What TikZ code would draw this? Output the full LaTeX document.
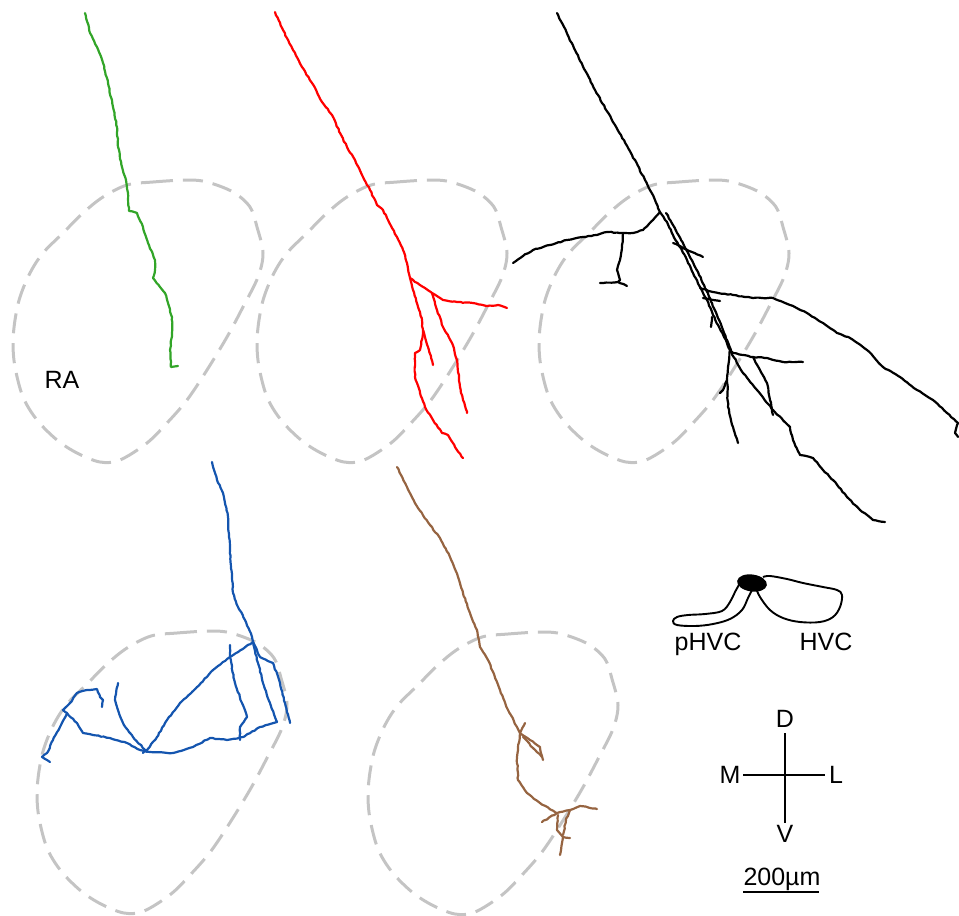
\documentclass[tikz,border=0pt]{standalone}
\usepackage{fontspec}
\setmainfont{Liberation Sans}
\usetikzlibrary{decorations.pathmorphing}
\definecolor{raGray}{RGB}{196,196,196}
\definecolor{axGreen}{RGB}{50,165,40}
\definecolor{axRed}{RGB}{255,0,0}
\definecolor{axBlue}{RGB}{20,85,175}
\definecolor{axBrown}{RGB}{150,100,65}
\pgfmathsetseed{7}
\begin{document}
\begin{tikzpicture}[x=1pt,y=-1pt,
  raline/.style={draw=raGray, line width=3pt, dash pattern=on 20pt off 10pt},
  axon/.style={draw=#1, line width=2.2pt, line join=round, line cap=round,
    decorate, decoration={random steps, segment length=3pt, amplitude=0.45pt}},
  inset/.style={draw=black, line width=1.9pt, line join=round},
  lbl/.style={font=\fontsize{25}{25}\selectfont, inner sep=0pt, anchor=base},
  ra/.pic={\draw[raline] plot[smooth cycle, tension=0.55] coordinates {
    (127,185) (153,182) (187,180) (207,182) (233,192) (250,207) (257,227)
    (263,253) (258,277) (243,307) (227,337) (207,370) (187,400) (167,423)
    (147,443) (120,460) (100,462) (77,453) (57,440) (37,420) (23,397)
    (15,367) (13,343) (15,320) (20,297) (30,273) (43,253) (63,233)
    (83,213) (103,197)};}
]
\useasboundingbox (0,0) rectangle (959,916);

% RA outlines
\pic at (0,0) {ra};
\pic at (244,0) {ra};
\pic at (526,0) {ra};
\pic at (24,451) {ra};
\pic at (355,452) {ra};

\node[lbl] (ra) at (62,388) {RA};

% green axon
\draw[axon=axGreen] (85,13) -- (90,33) -- (97,47) -- (103,63) -- (108,83) -- (113,107)
  -- (117,127) -- (118,147) -- (122,167) -- (126,180) -- (128,193) -- (129,211)
  -- (137,213) -- (143,227) -- (148,243) -- (155,260) -- (155,270) -- (153,278)
  -- (160,287) -- (165,293) -- (168,303) -- (172,317) -- (172,333) -- (170,350)
  -- (171,367) -- (178,366);

% red axon
\draw[axon=axRed] (275,12) -- (283,30) -- (293,50) -- (302,67) -- (312,83) -- (322,102)
  -- (332,115) -- (340,133) -- (347,147) -- (355,160) -- (363,177) -- (370,190)
  -- (377,205) -- (383,210) -- (388,220) -- (397,237) -- (403,250) -- (407,263)
  -- (410,278) -- (413,290) -- (418,307) -- (422,320) -- (423,333) -- (420,350)
  -- (415,353) -- (415,377) -- (420,393) -- (425,407) -- (433,420) -- (442,433)
  -- (448,435) -- (455,447) -- (463,458);
\draw[axon=axRed] (423,330) -- (428,347) -- (433,365);
\draw[axon=axRed] (410,278) -- (420,285) -- (432,293) -- (443,300) -- (457,302)
  -- (473,303) -- (487,306) -- (498,305) -- (507,308);
\draw[axon=axRed] (432,293) -- (437,310) -- (443,327) -- (452,343) -- (457,360)
  -- (460,387) -- (463,400) -- (467,413);

% black axon
\draw[axon=black] (557,13) -- (575,50) -- (595,90) -- (615,125) -- (632,155)
  -- (645,180) -- (655,200) -- (660,212);
\draw[axon=black] (660,212) -- (653,220) -- (643,230) -- (633,233) -- (623,233)
  -- (607,232) -- (597,235) -- (583,237) -- (567,240) -- (550,245) -- (533,250)
  -- (523,256) -- (513,263);
\draw[axon=black] (623,233) -- (622,247) -- (620,260) -- (617,270) -- (620,280)
  -- (618,282) -- (600,283);
\draw[axon=black] (618,282) -- (627,286);
\draw[axon=black] (660,212) -- (667,222) -- (673,235) -- (680,247) -- (687,260)
  -- (693,273) -- (700,287) -- (707,300) -- (713,315) -- (718,325) -- (724,337)
  -- (730,350);
\draw[axon=black] (666,213) -- (673,225) -- (681,240) -- (689,255) -- (698,272)
  -- (705,288) -- (712,303) -- (718,318) -- (723,330) -- (727,340) -- (731,350);
\draw[axon=black] (673,243) -- (692,252) -- (703,257);
\draw[axon=black] (700,288) -- (713,292) -- (733,295) -- (753,298) -- (773,298)
  -- (790,305) -- (807,313) -- (823,323) -- (837,333) -- (850,338) -- (867,350)
  -- (883,367) -- (900,377) -- (917,390) -- (933,400) -- (947,413) -- (958,423)
  -- (955,433) -- (958,437);
\draw[axon=black] (703,298) -- (720,301);
\draw[axon=black] (712,317) -- (711,327);
\draw[axon=black] (730,350) -- (733,353) -- (753,357) -- (767,358) -- (783,362)
  -- (803,362);
\draw[axon=black] (730,350) -- (728,367) -- (727,380) -- (723,390) -- (720,393);
\draw[axon=black] (727,380) -- (728,407) -- (733,427) -- (738,443);
\draw[axon=black] (731,352) -- (743,373) -- (757,390) -- (773,410) -- (790,427)
  -- (793,440) -- (800,455) -- (813,458) -- (823,470) -- (833,480) -- (847,497)
  -- (860,510) -- (873,520) -- (885,522);
\draw[axon=black] (753,357) -- (760,370) -- (767,383) -- (770,400) -- (773,415);

% blue axon
\draw[axon=axBlue] (212,462) -- (217,480) -- (223,493) -- (228,517) -- (229,537)
  -- (230,550) -- (232,577) -- (233,593) -- (238,607) -- (245,620) -- (252,637)
  -- (253,642) -- (258,663) -- (263,683) -- (270,703) -- (277,722);
\draw[axon=axBlue] (253,642) -- (260,657) -- (273,663) -- (280,683) -- (285,703)
  -- (290,723);
\draw[axon=axBlue] (253,642) -- (230,657) -- (213,670) -- (197,687) -- (180,703)
  -- (167,720) -- (157,737) -- (147,750) -- (143,753);
\draw[axon=axBlue] (230,645) -- (230,657) -- (235,683) -- (242,703) -- (247,717)
  -- (240,727) -- (240,740);
\draw[axon=axBlue] (277,722) -- (260,727) -- (243,737) -- (227,740) -- (210,738)
  -- (193,747) -- (173,753) -- (150,752) -- (140,750) -- (127,743) -- (110,738)
  -- (93,735) -- (83,733) -- (77,723) -- (67,713);
\draw[axon=axBlue] (147,752) -- (133,737) -- (123,723) -- (117,707) -- (115,700)
  -- (118,683);
\draw[axon=axBlue] (67,713) -- (63,710) -- (70,703) -- (77,693) -- (87,690)
  -- (97,689) -- (100,697) -- (103,700) -- (102,707);
\draw[axon=axBlue] (67,713) -- (60,727) -- (53,740) -- (47,753) -- (42,757)
  -- (47,760) -- (50,762);

% brown axon
\draw[axon=axBrown] (397,467) -- (407,487) -- (418,508) -- (430,525) -- (440,538)
  -- (450,557) -- (458,577) -- (463,593) -- (470,613) -- (477,630) -- (480,647)
  -- (488,660) -- (492,670) -- (500,690) -- (508,710) -- (517,727) -- (520,733);
\draw[axon=axBrown] (520,733) -- (525,723);
\draw[axon=axBrown] (520,733) -- (530,740) -- (540,747) -- (543,760);
\draw[axon=axBrown] (523,737) -- (533,748) -- (542,757);
\draw[axon=axBrown] (520,733) -- (517,757) -- (518,780) -- (527,793) -- (540,803)
  -- (557,813) -- (570,810) -- (580,806) -- (597,809);
\draw[axon=axBrown] (557,813) -- (542,822);
\draw[axon=axBrown] (558,815) -- (557,830) -- (563,837) -- (570,838);
\draw[axon=axBrown] (563,837) -- (562,843) -- (560,855);
\draw[axon=axBrown] (570,810) -- (566,820) -- (563,835);

% HVC inset
\draw[inset] plot[smooth, tension=0.6] coordinates {
  (740,583) (735,592) (730,602) (722,611) (705,614) (688,615) (677,617)
  (673,621) (677,625) (695,626) (713,624) (730,619) (742,610) (748,598) (753,588)};
\draw[inset] plot[smooth, tension=0.6] coordinates {
  (756,588) (760,597) (770,610) (783,618) (800,622) (820,622) (833,617)
  (840,607) (842,595) (837,590) (823,587) (803,583) (787,579) (770,576) (763,577)};
\fill[black, rotate around={-8:(752,583)}] (752,583) ellipse [x radius=15, y radius=8.5];
\node[lbl] (phvc) at (708,650) {pHVC};
\node[lbl] (hvc) at (826,650) {HVC};

% orientation cross
\coordinate (cD) at (785,733);
\coordinate (cV) at (785,823);
\coordinate (cM) at (743,775);
\coordinate (cL) at (825,775);
\draw[line width=2.6pt] (cD) -- (cV);
\draw[line width=2.6pt] (cM) -- (cL);
\node[lbl] (d) at (785,727) {D};
\node[lbl] (m) at (730,783) {M};
\node[lbl] (l) at (836,783) {L};
\node[lbl] (v) at (785,842) {V};

% scale bar
\node[lbl] (scale) at (782,885) {200µm};
\coordinate (sb1) at (743,892);
\coordinate (sb2) at (819,892);
\draw[line width=2.6pt] (sb1) -- (sb2);
\end{tikzpicture}
\end{document}
